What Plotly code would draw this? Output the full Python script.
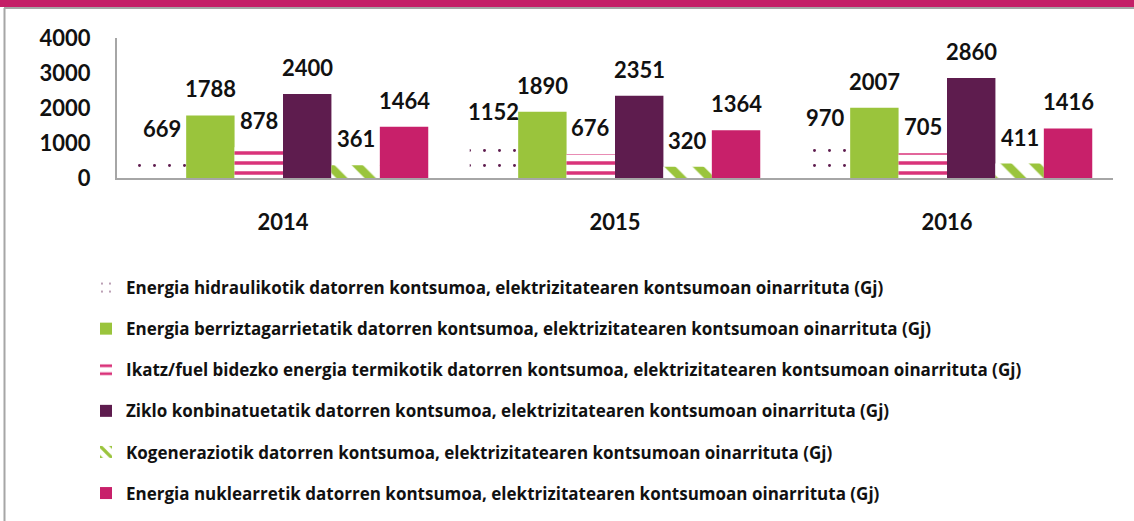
import plotly.graph_objects as go

years = ["2014", "2015", "2016"]
series_names = [
    "Energia hidraulikotik datorren kontsumoa, elektrizitatearen kontsumoan oinarrituta (Gj)",
    "Energia berriztagarrietatik datorren kontsumoa, elektrizitatearen kontsumoan oinarrituta (Gj)",
    "Ikatz/fuel bidezko energia termikotik datorren kontsumoa, elektrizitatearen kontsumoan oinarrituta (Gj)",
    "Ziklo konbinatuetatik datorren kontsumoa, elektrizitatearen kontsumoan oinarrituta (Gj)",
    "Kogeneraziotik datorren kontsumoa, elektrizitatearen kontsumoan oinarrituta (Gj)",
    "Energia nuklearretik datorren kontsumoa, elektrizitatearen kontsumoan oinarrituta (Gj)",
]
hidraulikoa = [669, 1152, 970]
berriztagarriak = [1788, 1890, 2007]
termikoa = [878, 676, 705]
ziklo = [2400, 2351, 2860]
kogenerazioa = [361, 320, 411]
nuklearra = [1464, 1364, 1416]
y_ticks = [0, 1000, 2000, 3000, 4000]

values = [hidraulikoa, berriztagarriak, termikoa, ziklo, kogenerazioa, nuklearra]

GREEN = "#9AC43C"
PURPLE = "#5E1C4E"
PINK = "#C8206A"
ZIG = "#D9337A"

styles = [
    dict(color=PURPLE, pattern=dict(shape=".", fgcolor=PURPLE, bgcolor="white", size=15, solidity=0.03, fillmode="replace")),
    dict(color=GREEN),
    dict(color=ZIG, pattern=dict(shape="-", fgcolor=ZIG, bgcolor="white", size=10, solidity=0.35, fillmode="replace")),
    dict(color=PURPLE),
    dict(color=GREEN, pattern=dict(shape="\\", fgcolor=GREEN, bgcolor="white", size=20, solidity=0.4, fillmode="replace")),
    dict(color=PINK),
]

W, H = 1134, 521
ML, MR, MT, MB = 117, 21, 38, 343
PW = W - ML - MR
PH = H - MT - MB
BARGAP = 0.125
FONT = "Lato"
LEGEND_FONT = "Open Sans"

fig = go.Figure()
for i, (name, vals, st) in enumerate(zip(series_names, values, styles)):
    fig.add_trace(go.Bar(
        x=years, y=vals, name=name, legendgroup=f"g{i}",
        marker=dict(line=dict(width=0), **st),
        hoverinfo="skip",
    ))

# data labels above bars
n = len(values)
bw = (1 - BARGAP) / n
annotations = []
for i, vals in enumerate(values):
    for j, v in enumerate(vals):
        annotations.append(dict(
            x=j + (i - (n - 1) / 2) * bw, y=v, xref="x", yref="y",
            text=str(v), showarrow=False, yanchor="bottom",
            yshift=11, font=dict(family=FONT, size=22, color="#111111", weight="bold"),
        ))

def px_to_paper_x(px):
    return (px - ML) / PW

def px_to_paper_y(py):
    return (H - MB - py) / PH

shapes = [
    dict(type="rect", xref="paper", yref="paper",
         x0=px_to_paper_x(0), x1=px_to_paper_x(W), y0=px_to_paper_y(7), y1=px_to_paper_y(0),
         fillcolor="#C41F67", line=dict(width=0), layer="above"),
    dict(type="line", xref="paper", yref="paper",
         x0=px_to_paper_x(4), x1=px_to_paper_x(W), y0=px_to_paper_y(8), y1=px_to_paper_y(8),
         line=dict(color="#A6A6A6", width=2)),
    dict(type="line", xref="paper", yref="paper",
         x0=px_to_paper_x(4.5), x1=px_to_paper_x(4.5), y0=px_to_paper_y(8), y1=px_to_paper_y(H),
         line=dict(color="#A6A6A6", width=2)),
]

fig.update_layout(
    width=W, height=H,
    margin=dict(l=ML, r=MR, t=MT, b=MB, autoexpand=False),
    paper_bgcolor="white", plot_bgcolor="white",
    barmode="group", bargap=BARGAP, bargroupgap=0,
    font=dict(family=FONT, color="#111111"),
    showlegend=True,
    legend=dict(
        x=px_to_paper_x(86), y=px_to_paper_y(270), xanchor="left", yanchor="top",
        orientation="v", tracegroupgap=16,
        font=dict(family=LEGEND_FONT, size=17, color="#111111", weight="bold"),
        itemwidth=30, bgcolor="rgba(0,0,0,0)",
    ),
    annotations=annotations,
    shapes=shapes,
    xaxis=dict(
        showline=True, linecolor="#A6A6A6", linewidth=2,
        showgrid=False, ticks="", ticklabelstandoff=24,
        tickfont=dict(family=FONT, size=22, color="#111111", weight="bold"),
    ),
    yaxis=dict(
        range=[0, 4000], tickvals=y_ticks,
        showline=True, linecolor="#A6A6A6", linewidth=2,
        showgrid=False, zeroline=False, ticks="", ticklabelstandoff=20,
        tickfont=dict(family=FONT, size=22, color="#111111", weight="bold"),
    ),
)

fig.write_html("out.html", config={"displayModeBar": False},
               post_script="document.body.style.margin='0';")
